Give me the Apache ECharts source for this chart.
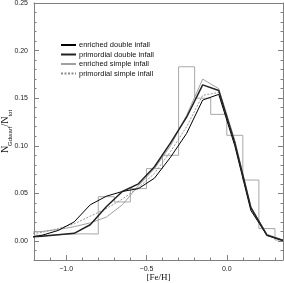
<!DOCTYPE html>
<html><head><meta charset="utf-8">
<script src="https://cdn.jsdelivr.net/npm/echarts@6/dist/echarts.min.js"></script>
<style>html,body{margin:0;padding:0;background:#fff}#c{width:284px;height:283px}</style>
</head><body><div id="c"></div>
<script>
// Metallicity grid of model curves (bin centres)
const feh = [-1.25,-1.15,-1.05,-0.95,-0.85,-0.75,-0.65,-0.55,-0.45,-0.35,-0.25,-0.15,-0.05,0.05,0.15,0.25,0.35];
const enrichedDouble   = [0.003,0.006,0.011,0.020,0.038,0.047,0.052,0.055,0.066,0.088,0.113,0.148,0.154,0.100,0.032,0.006,0.0005];
const primordialDouble = [0.004,0.005,0.0065,0.008,0.017,0.036,0.052,0.060,0.078,0.103,0.130,0.164,0.158,0.103,0.035,0.006,0.0005];
const enrichedSimple   = [0.009,0.010,0.012,0.015,0.019,0.025,0.038,0.058,0.076,0.100,0.132,0.170,0.160,0.106,0.036,0.007,0.001];
const primordialSimple = [0.007,0.009,0.013,0.018,0.026,0.034,0.044,0.056,0.071,0.094,0.120,0.153,0.156,0.104,0.034,0.006,0.001];
// Observed histogram (left bin edges, width 0.1)
const binEdges = [-1.2,-1.1,-1.0,-0.9,-0.8,-0.7,-0.6,-0.5,-0.4,-0.3,-0.2,-0.1,0.0,0.1,0.2,0.3,0.4];
const histValues = [0.006,0.007,0.0075,0.0073,0.0465,0.041,0.055,0.076,0.090,0.183,0.150,0.133,0.111,0.064,0.013,0.001];
// Tick values
const xMinorTicks = [-1.2,-1.1,-1.0,-0.9,-0.8,-0.7,-0.6,-0.5,-0.4,-0.3,-0.2,-0.1,0.0,0.1,0.2,0.3];
const xMajorTicks = [-1.0,-0.5,0.0];
const yMinorTicks = [-0.02,-0.01,0.00,0.01,0.02,0.03,0.04,0.05,0.06,0.07,0.08,0.09,0.10,0.11,0.12,0.13,0.14,0.15,0.16,0.17,0.18,0.19,0.20,0.21,0.22,0.23,0.24,0.25];
const yMajorTicks = [0.00,0.05,0.10,0.15,0.20,0.25];

const names = ['enriched double infall','primordial double infall','enriched simple infall','primordial simple infall'];
const pair = (xs, ys) => ys.map((v,i)=>[xs[i], v]);
const histData = histValues.map((v,i)=>[binEdges[i], v]).concat([[binEdges[histValues.length], histValues[histValues.length-1]]]);

const AX = '#808080';
const LBL = {color:'#222', fontSize:7, fontFamily:'Liberation Sans'};
const XMIN=-1.2, XMAX=0.35, YMIN=-0.02, YMAX=0.25;
const minus = s => s.replace('-', '\u2212');

const chart = echarts.init(document.getElementById('c'), null, {renderer:'canvas'});
chart.setOption({
  animation:false,
  backgroundColor:'#fff',
  grid:{left:34, right:1, top:3, bottom:23, containLabel:false, outerBoundsMode:'none'},
  legend:{
    data:names, orient:'vertical', left:55, top:36, itemGap:1.5,
    itemWidth:15, itemHeight:7,
    itemStyle:{opacity:0},
    textStyle:{fontSize:7.5, fontFamily:'Liberation Sans', color:'#111', padding:[0,0,0,-2]}
  },
  xAxis:[
    {type:'value', min:XMIN, max:XMAX, position:'bottom', splitLine:{show:false},
     axisLine:{onZero:false, lineStyle:{color:AX, width:1}},
     axisTick:{inside:true, length:2.5, customValues:xMinorTicks, lineStyle:{color:AX}},
     axisLabel:{show:false}},
    {type:'value', min:XMIN, max:XMAX, position:'bottom', splitLine:{show:false},
     axisLine:{show:false, onZero:false},
     axisTick:{inside:true, length:5, customValues:xMajorTicks, lineStyle:{color:AX}},
     axisLabel:Object.assign({customValues:xMajorTicks, margin:6, formatter:v=>minus(v.toFixed(1))}, LBL),
     name:'[Fe/H]', nameLocation:'middle', nameGap:13, nameMoveOverlap:false,
     nameTextStyle:{fontSize:9, fontFamily:'Liberation Serif', color:'#111'}},
    {type:'value', min:XMIN, max:XMAX, position:'top', splitLine:{show:false},
     axisLine:{onZero:false, lineStyle:{color:AX}}, axisTick:{show:false}, axisLabel:{show:false}}
  ],
  yAxis:[
    {type:'value', min:YMIN, max:YMAX, position:'left', splitLine:{show:false},
     axisLine:{onZero:false, lineStyle:{color:AX}},
     axisTick:{inside:true, length:2.5, customValues:yMinorTicks, lineStyle:{color:AX}},
     axisLabel:{show:false}},
    {type:'value', min:YMIN, max:YMAX, position:'left', splitLine:{show:false},
     axisLine:{show:false, onZero:false},
     axisTick:{inside:true, length:5, customValues:yMajorTicks, lineStyle:{color:AX}},
     axisLabel:Object.assign({customValues:yMajorTicks, margin:6, formatter:v=>minus(v.toFixed(2))}, LBL),
     name:'{n|N}{s|Gdwarf}{n|/N}{s|tot}', nameLocation:'middle', nameGap:21, nameRotate:90, nameMoveOverlap:false,
     nameTextStyle:{fontFamily:'Liberation Serif', color:'#111',
       rich:{n:{fontSize:10, fontFamily:'Liberation Serif', color:'#111', verticalAlign:'bottom', padding:[0,0,3,0]},
             s:{fontSize:6, fontFamily:'Liberation Sans', color:'#111', verticalAlign:'bottom'}}}},
    {type:'value', min:YMIN, max:YMAX, position:'right', splitLine:{show:false},
     axisLine:{onZero:false, lineStyle:{color:AX}},
     axisTick:{inside:true, length:2.5, customValues:yMinorTicks, lineStyle:{color:AX}},
     axisLabel:{show:false}},
    {type:'value', min:YMIN, max:YMAX, position:'right', splitLine:{show:false},
     axisLine:{show:false, onZero:false},
     axisTick:{inside:true, length:5, customValues:yMajorTicks, lineStyle:{color:AX}},
     axisLabel:{show:false}}
  ],
  series:[
    {name:'histogram', type:'line', step:'end', data:histData, symbol:'none', clip:true,
     lineStyle:{color:'#a8a8a8', width:1}, z:1},
    {name:names[2], type:'line', data:pair(feh, enrichedSimple), symbol:'none', clip:true,
     lineStyle:{color:'#a0a0a0', width:1}, itemStyle:{color:'#a0a0a0'}, z:2},
    {name:names[3], type:'line', data:pair(feh, primordialSimple), symbol:'none', clip:true,
     lineStyle:{color:'#8a8a8a', width:0.9, type:[2,1.5]}, itemStyle:{color:'#8a8a8a'}, z:3},
    {name:names[0], type:'line', data:pair(feh, enrichedDouble), symbol:'none', clip:true,
     lineStyle:{color:'#000', width:1}, itemStyle:{color:'#000'}, z:4},
    {name:names[1], type:'line', data:pair(feh, primordialDouble), symbol:'none', clip:true,
     lineStyle:{color:'#222', width:1.5}, itemStyle:{color:'#222'}, z:5}
  ]
});
</script></body></html>
